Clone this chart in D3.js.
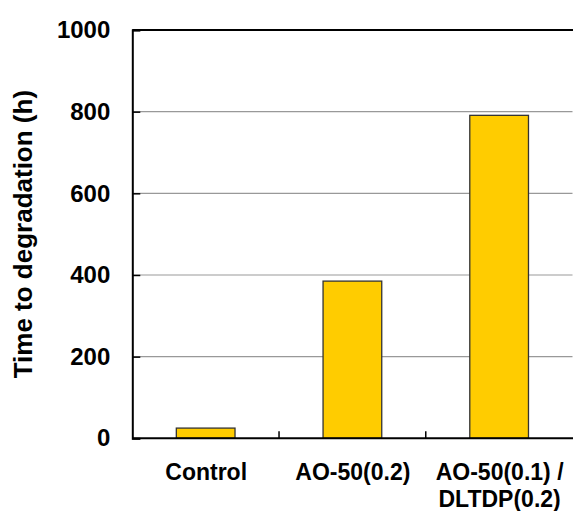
<!DOCTYPE html>
<html>
<head>
<meta charset="utf-8">
<script src="https://cdn.jsdelivr.net/npm/d3@7"></script>
<style>
	body { margin: 0; background: #fff; }
	svg { display: block; font-family: Arial, "Liberation Sans", sans-serif; font-weight: bold; }
</style>
</head>
<body>
<svg id="chart" width="573" height="511"></svg>
<script>
const categories = ["Control", "AO-50(0.2)", "AO-50(0.1) /\nDLTDP(0.2)"];
const hours = [25, 385, 791];
const yTicks = [0, 200, 400, 600, 800, 1000];

const svg = d3.select("#chart");
const margin = { top: 30, right: 0.5, bottom: 72.7, left: 132.3 };
const width = 573;
const height = 511;
const innerWidth = width - margin.left - margin.right;
const innerHeight = height - margin.top - margin.bottom;

const g = svg.append("g").attr("transform", `translate(${margin.left}, ${margin.top})`);

const x = d3.scaleBand()
	.domain(categories)
	.range([0, innerWidth])
	.paddingInner(0.6)
	.paddingOuter(0.3);

const y = d3.scaleLinear().domain([0, 1000]).range([innerHeight, 0]);

// grid lines (not at 0 or 1000)
g.append("g")
	.selectAll("line")
	.data(yTicks.filter((d) => d > 0 && d < 1000))
	.join("line")
	.attr("x1", 0)
	.attr("x2", innerWidth)
	.attr("y1", (d) => y(d))
	.attr("y2", (d) => y(d))
	.attr("stroke", "#999")
	.attr("stroke-width", 1.2);

// bars
g.selectAll(".bar")
	.data(hours)
	.join("rect")
	.attr("class", "bar")
	.attr("x", (d, i) => x(categories[i]))
	.attr("y", (d) => y(d))
	.attr("width", x.bandwidth())
	.attr("height", (d) => innerHeight - y(d))
	.attr("fill", "#ffcc00")
	.attr("stroke", "#333")
	.attr("stroke-width", 1.3);

// top frame line
g.append("line")
	.attr("x1", 0).attr("x2", innerWidth + 1)
	.attr("y1", y(1000)).attr("y2", y(1000))
	.attr("stroke", "#000").attr("stroke-width", 2);

// y axis
const yAxis = g.append("g")
	.call(d3.axisLeft(y).tickValues(yTicks).tickFormat(d3.format("d")).tickSize(-8).tickPadding(22));
yAxis.select(".domain").attr("stroke", "#000").attr("stroke-width", 2);
yAxis.selectAll(".tick line").attr("stroke", "#000").attr("stroke-width", 1.5);
yAxis.selectAll(".tick text")
	.attr("fill", "#000")
	.style("font-size", "24px")
	.style("font-weight", "bold")
	.style("font-family", "Arial, 'Liberation Sans', sans-serif");

// x axis: ticks sit between categories
const step = x.step();
const xAxis = g.append("g").attr("transform", `translate(0, ${innerHeight})`);
xAxis.append("line")
	.attr("x1", 0).attr("x2", innerWidth + 1)
	.attr("stroke", "#000").attr("stroke-width", 2);
xAxis.selectAll(".sep")
	.data(categories.slice(1))
	.join("line")
	.attr("class", "sep")
	.attr("x1", (d) => x(d) - x.paddingInner() * step / 2)
	.attr("x2", (d) => x(d) - x.paddingInner() * step / 2)
	.attr("y1", 0)
	.attr("y2", -7)
	.attr("stroke", "#000")
	.attr("stroke-width", 1.5);

const labels = xAxis.selectAll(".xlabel")
	.data(categories)
	.join("text")
	.attr("class", "xlabel")
	.attr("text-anchor", "middle")
	.attr("x", (d) => x(d) + x.bandwidth() / 2 + 0.5)
	.attr("y", 42)
	.attr("fill", "#000")
	.style("font-size", "23px");
labels.each(function (d) {
	const parts = d.split("\n");
	d3.select(this).selectAll("tspan")
		.data(parts)
		.join("tspan")
		.attr("x", x(d) + x.bandwidth() / 2 + 0.5)
		.attr("dy", (p, i) => (i === 0 ? 0 : 27))
		.text((p) => p);
});

// y axis title
svg.append("text")
	.attr("transform", `translate(32, ${margin.top + innerHeight / 2}) rotate(-90)`)
	.attr("text-anchor", "middle")
	.attr("fill", "#000")
	.style("font-size", "26px")
	.text("Time to degradation (h)");
</script>
</body>
</html>
